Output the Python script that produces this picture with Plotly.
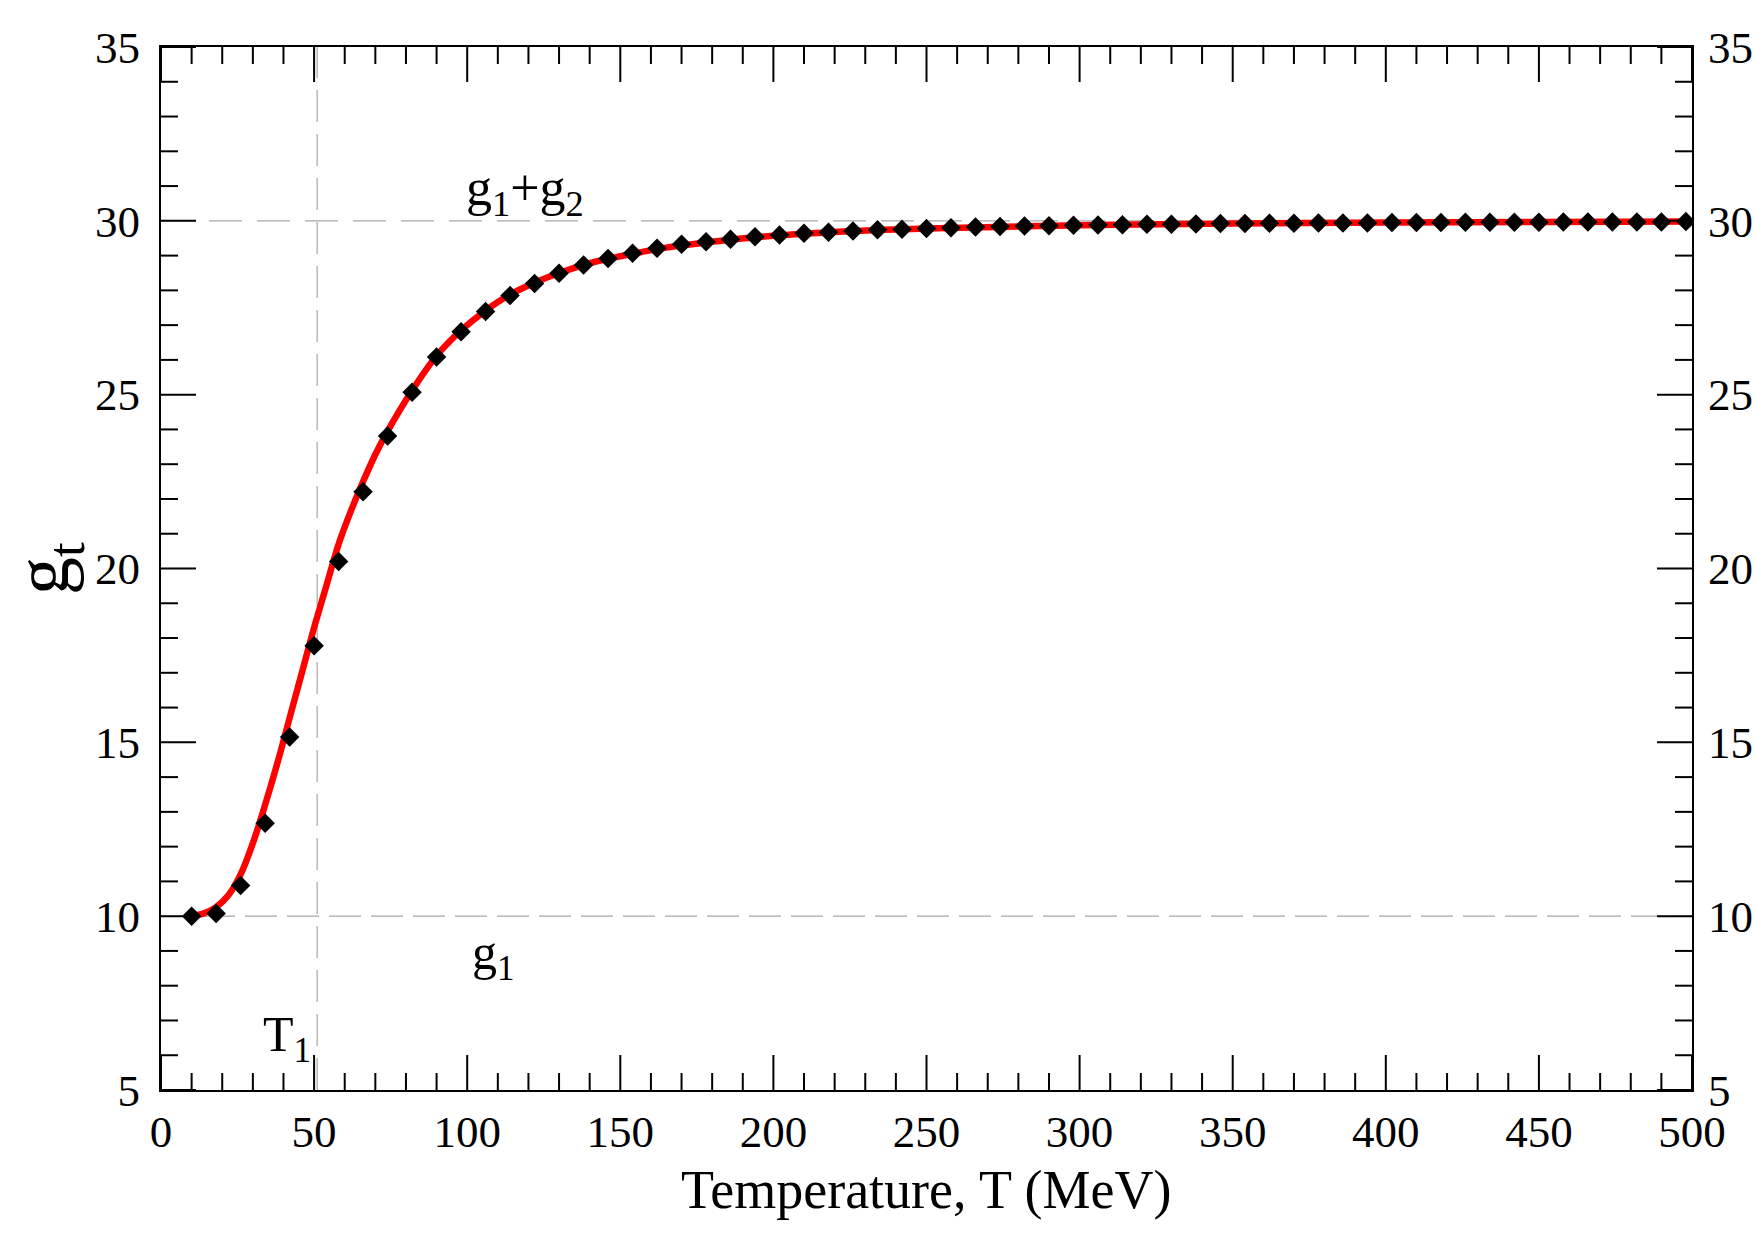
import plotly.graph_objects as go

# ---- data ----
T_points = [10, 18, 26, 34, 42, 50, 58, 66, 74, 82, 90, 98, 106, 114, 122, 130,
            138, 146, 154, 162, 170, 178, 186, 194, 202, 210, 218, 226, 234, 242,
            250, 258, 266, 274, 282, 290, 298, 306, 314, 322, 330, 338, 346, 354,
            362, 370, 378, 386, 394, 402, 410, 418, 426, 434, 442, 450, 458, 466,
            474, 482, 490, 498]
g_points = [10.00, 10.08, 10.88, 12.67, 15.15, 17.78, 20.20, 22.21, 23.81, 25.07,
            26.08, 26.81, 27.39, 27.85, 28.20, 28.49, 28.73, 28.92, 29.07, 29.21,
            29.33, 29.40, 29.47, 29.54, 29.59, 29.64, 29.67, 29.71, 29.74, 29.76,
            29.78, 29.80, 29.82, 29.84, 29.85, 29.86, 29.87, 29.88, 29.89, 29.90,
            29.90, 29.91, 29.92, 29.92, 29.93, 29.93, 29.94, 29.94, 29.94, 29.95,
            29.95, 29.95, 29.96, 29.96, 29.96, 29.96, 29.97, 29.97, 29.97, 29.97,
            29.97, 29.98]

T_curve = [10, 14, 18, 22, 26, 30, 34, 38, 42, 46, 50, 54, 58, 62, 66, 70, 74, 82,
           90, 98, 106, 114, 122, 130, 140, 150, 165, 180, 200, 225, 250, 300, 350,
           400, 450, 500]
g_curve = [10.00, 10.08, 10.26, 10.60, 11.20, 12.10, 13.20, 14.40, 15.70, 17.00,
           18.30, 19.50, 20.70, 21.65, 22.50, 23.28, 23.95, 25.12, 26.12, 26.85,
           27.42, 27.88, 28.22, 28.50, 28.78, 28.98, 29.23, 29.40, 29.57, 29.70,
           29.78, 29.87, 29.92, 29.95, 29.97, 29.98]

g1 = 10
g1_plus_g2 = 30
T1 = 51

x_range = [0, 500]
y_range = [5, 35]
x_major, x_minor = 50, 10
y_major, y_minor = 5, 1

FONT = "Liberation Serif"
MAJOR_LEN, MINOR_LEN = 35, 17

fig = go.Figure()

fig.add_trace(go.Scatter(x=T_curve, y=g_curve, mode="lines",
                         line=dict(color="#ff0000", width=6.5, shape="spline"),
                         showlegend=False, hoverinfo="skip"))
fig.add_trace(go.Scatter(x=T_points, y=g_points, mode="markers",
                         marker=dict(symbol="diamond", size=15, color="black"),
                         showlegend=False))
# ghost trace that anchors the right-hand label axis
fig.add_trace(go.Scatter(x=[x_range[0]], y=[y_range[0]], xaxis="x", yaxis="y2",
                         mode="markers", marker=dict(opacity=0),
                         showlegend=False, hoverinfo="skip"))

gray = "#a8a8a8"
fig.add_shape(type="line", xref="x", yref="y", x0=x_range[0], x1=x_range[1],
              y0=g1_plus_g2, y1=g1_plus_g2, layer="below",
              line=dict(color=gray, width=1.2, dash="33px,15px"))
fig.add_shape(type="line", xref="x", yref="y", x0=x_range[0], x1=x_range[1],
              y0=g1, y1=g1, layer="below",
              line=dict(color=gray, width=1.2, dash="32px,10px"))
fig.add_shape(type="line", xref="x", yref="y", x0=T1, x1=T1,
              y0=y_range[0], y1=y_range[1], layer="below",
              line=dict(color=gray, width=1.2, dash="32px,12px"))

# inward-pointing ticks on all four sides (positions on the data scale,
# lengths in pixels)
tick_line = dict(color="black", width=2)
xt = x_range[0]
while xt <= x_range[1]:
    ln = MAJOR_LEN if xt % x_major == 0 else MINOR_LEN
    for anchor, sgn in [(y_range[0], 1), (y_range[1], -1)]:
        fig.add_shape(type="line", xref="x", yref="y", ysizemode="pixel",
                      yanchor=anchor, x0=xt, x1=xt, y0=0, y1=sgn * ln,
                      line=tick_line, layer="above")
    xt += x_minor
yt = y_range[0]
while yt <= y_range[1]:
    ln = MAJOR_LEN if yt % y_major == 0 else MINOR_LEN
    for anchor, sgn in [(x_range[0], 1), (x_range[1], -1)]:
        fig.add_shape(type="line", xref="x", yref="y", xsizemode="pixel",
                      xanchor=anchor, y0=yt, y1=yt, x0=0, x1=sgn * ln,
                      line=tick_line, layer="above")
    yt += y_minor

fig.add_annotation(x=119, y=30.85, xref="x", yref="y",
                   text="g<sub>1</sub>+g<sub>2</sub>", showarrow=False,
                   font=dict(family=FONT, size=52, color="black"))
fig.add_annotation(x=108.5, y=8.85, xref="x", yref="y",
                   text="g<sub>1</sub>", showarrow=False,
                   font=dict(family=FONT, size=50, color="black"))
fig.add_annotation(x=41, y=6.5, xref="x", yref="y",
                   text="T<sub>1</sub>", showarrow=False,
                   font=dict(family=FONT, size=50, color="black"))
# x-axis title
fig.add_annotation(x=0.5, y=-0.096, xref="paper", yref="paper",
                   xanchor="center", yanchor="middle",
                   text="Temperature, T (MeV)", showarrow=False,
                   font=dict(family=FONT, size=54, color="black"))

tickfont = dict(family=FONT, size=45, color="black")
frame = dict(showline=True, linewidth=2, linecolor="black", mirror=True,
             ticks="", showgrid=False, zeroline=False, automargin=False,
             tickfont=tickfont)

fig.update_layout(
    width=1755, height=1240,
    margin=dict(l=161, r=63, t=47, b=150),
    paper_bgcolor="white", plot_bgcolor="white",
    font=dict(family=FONT, color="black"),
    xaxis=dict(range=x_range, tickmode="linear", tick0=0, dtick=x_major,
               ticklabelstandoff=1, **frame),
    yaxis=dict(range=y_range, tickmode="linear", tick0=0, dtick=y_major,
               ticklabelstandoff=10,
               title=dict(text="g<sub>t</sub>", standoff=30,
                          font=dict(family=FONT, size=76, color="black")),
               **frame),
    yaxis2=dict(range=y_range, overlaying="y", side="right", tickmode="linear",
                tick0=0, dtick=y_major, showline=False, ticks="", showgrid=False,
                zeroline=False, ticklabelstandoff=15, automargin=False,
                tickfont=tickfont),
)

fig.write_html("out.html")
